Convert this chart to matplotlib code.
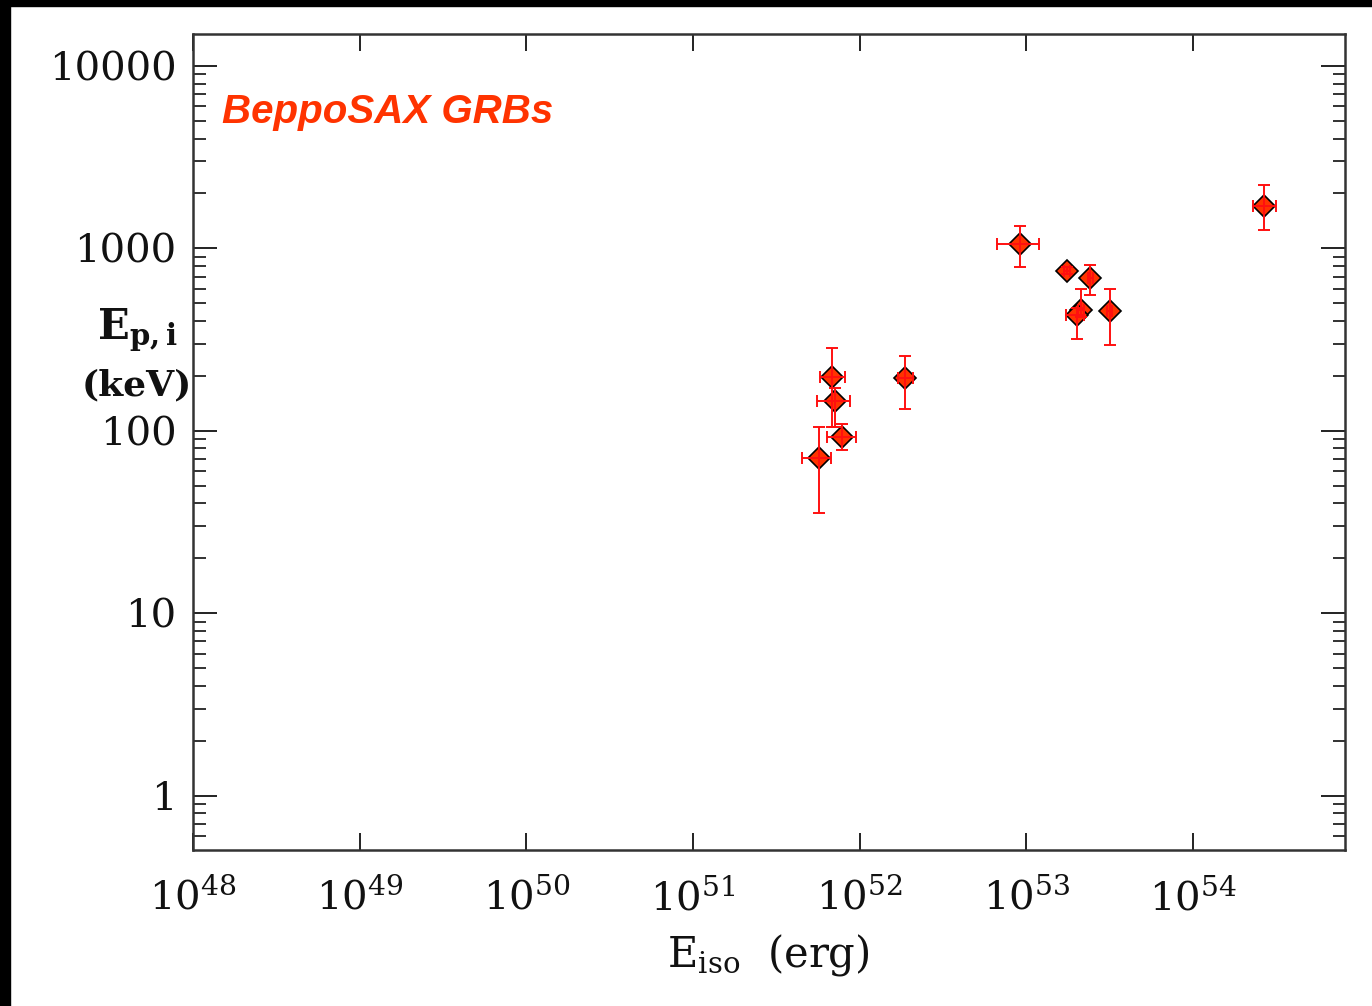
#!/usr/bin/env python3
# Ep,i - Eiso plane for BeppoSAX GRBs (Amati relation style plot)
import matplotlib
matplotlib.use("Agg")
import matplotlib.pyplot as plt
import numpy as np
from matplotlib.patches import Rectangle
from matplotlib.ticker import LogLocator, NullFormatter, FixedLocator

plt.rcParams["mathtext.fontset"] = "dejavuserif"

# isotropic energy (erg) with lower/upper bounds
eiso = [5.69e51, 6.84e51, 7.06e51, 7.85e51, 1.88e52, 9.16e52,
        1.75e53, 2.42e53, 2.13e53, 2.00e53, 3.15e53, 2.67e54]
eiso_lo = [4.52e51, 5.74e51, 5.53e51, 6.35e51, 1.70e52, 6.64e52,
           1.68e53, 2.35e53, 2.05e53, 1.73e53, 3.05e53, 2.28e54]
eiso_hi = [6.75e51, 8.11e51, 8.77e51, 9.44e51, 2.08e52, 1.19e53,
           1.82e53, 2.50e53, 2.22e53, 2.20e53, 3.25e53, 3.14e54]

# rest-frame peak energy (keV) with lower/upper bounds
ep = [71.3, 196, 146, 92.3, 194, 1054, 753, 687, 460, 432, 454, 1710]
ep_lo = [35.3, 105.5, 105.5, 78.6, 131, 795, 720, 556, 420, 318, 296, 1253]
ep_hi = [105.5, 284, 172, 109, 258, 1328, 790, 812, 598, 470, 597, 2229]

ytick_vals = [1, 10, 100, 1000, 10000]
ytick_labels = ["1", "10", "100", "1000", "10000"]
xtick_exps = [48, 49, 50, 51, 52, 53, 54]

W, H = 1372, 1006
fig = plt.figure(figsize=(W / 100, H / 100), dpi=100)
ax = fig.add_axes([193 / W, 1 - 850 / H, (1345 - 193) / W, (850 - 34) / H])

ax.set_xscale("log")
ax.set_yscale("log")
ax.set_xlim(1e48, 10 ** 54.911)
ax.set_ylim(10 ** -0.298, 10 ** 4.175)

eiso = np.array(eiso)
ep = np.array(ep)
xerr = [eiso - np.array(eiso_lo), np.array(eiso_hi) - eiso]
yerr = [ep - np.array(ep_lo), np.array(ep_hi) - ep]

# diamonds first, error bars on top (red cross shows through marker)
ax.plot(eiso, ep, "D", ms=11.5, mfc="#ff3300", mec="black", mew=1.2,
        ls="none", zorder=3)
ax.errorbar(eiso, ep, xerr=xerr, yerr=yerr, fmt="none", ecolor="#ff1010",
            elinewidth=1.4, capsize=4, capthick=1.4, zorder=4)

# ticks
ax.xaxis.set_major_locator(FixedLocator([10.0 ** e for e in xtick_exps]))
ax.xaxis.set_minor_locator(FixedLocator([]))
ax.set_xticklabels([r"$10^{%d}$" % e for e in xtick_exps])
ax.yaxis.set_major_locator(FixedLocator(ytick_vals))
ax.set_yticklabels(ytick_labels)
ax.yaxis.set_minor_locator(LogLocator(base=10, subs=np.arange(2, 10)))
ax.yaxis.set_minor_formatter(NullFormatter())

ax.tick_params(axis="both", which="major", direction="in", top=True,
               right=True, width=1.4, color="#222222")
ax.tick_params(axis="x", which="major", length=12, pad=20)
ax.tick_params(axis="y", which="major", length=17, pad=12)
ax.tick_params(axis="y", which="minor", direction="in", left=True,
               right=True, length=9, width=1.3, color="#222222")

for lab in ax.get_xticklabels():
    lab.set_family("DejaVu Serif")
    lab.set_fontsize(29)
    lab.set_color("#111111")
for lab in ax.get_yticklabels():
    lab.set_family("DejaVu Serif")
    lab.set_fontsize(29)
    lab.set_color("#111111")

for sp in ax.spines.values():
    sp.set_linewidth(1.8)
    sp.set_color("#333333")

# axis titles
fig.text(768 / W, 1 - 955 / H, r"$\mathrm{E_{iso}}$  (erg)", family="DejaVu Serif",
         fontsize=30, ha="center", va="center", color="#111111")
fig.text(137 / W, 1 - 330 / H, r"$\mathbf{E_{p,i}}$", fontsize=30,
         ha="center", va="center", color="#111111")
fig.text(137 / W, 1 - 385 / H, "(keV)", family="DejaVu Serif",
         fontweight="bold", fontsize=26, ha="center", va="center",
         color="#111111")

ax.text(222 / W, 1 - 112 / H, "BeppoSAX GRBs", transform=fig.transFigure,
        family="Liberation Sans", fontweight="bold", style="italic",
        fontsize=29, color="#ff3300", ha="left", va="center")

# black frame strips at top and left edge
fig.patches.append(Rectangle((0, 1 - 6 / H), 1, 6 / H, transform=fig.transFigure,
                             color="black", zorder=10))
fig.patches.append(Rectangle((0, 0), 10 / W, 1, transform=fig.transFigure,
                             color="black", zorder=10))

fig.savefig("out.png", dpi=100)
